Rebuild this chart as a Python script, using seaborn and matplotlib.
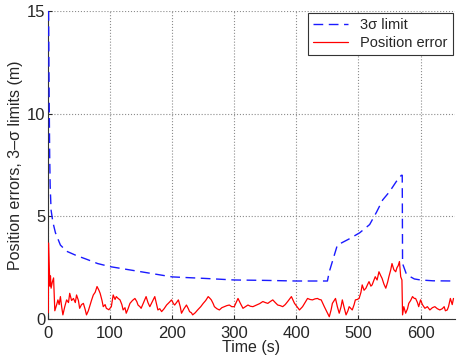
import pandas as pd
import matplotlib.pyplot as plt
import seaborn as sns

# 3-sigma limit (m) vs time (s)
sigma_points = [
    (1, 15), (1.5, 12.5), (2, 10.5), (2.7, 8), (3.5, 6.5), (5, 5.3), (8, 4.7), (12, 4.2),
    (20, 3.6), (30, 3.3), (45, 3.1), (63, 2.9), (80, 2.7), (100, 2.55), (150, 2.3),
    (200, 2.05), (250, 1.98), (300, 1.9), (350, 1.88), (400, 1.85), (450, 1.85),
    (453, 2.3), (459, 2.9), (466, 3.6), (485, 3.9), (502, 4.2), (518, 4.6), (529, 5.2),
    (539, 5.8), (550, 6.2), (561, 6.7), (569, 7.0), (570.5, 7.0), (571, 2.7), (577, 2.2),
    (584, 2.05), (590, 1.95), (600, 1.9), (620, 1.86), (655, 1.85),
]

# position error (m) vs time (s)
err_points = [
    (0.5, 0.3), (1, 3.7), (2, 2.6), (3, 1.6), (4, 2.1), (5, 1.5), (7, 1.8), (9, 2.0),
    (10, 1.2), (11, 0.4), (14, 0.7), (16, 0.93), (18, 0.7), (20, 1.09), (22, 0.6),
    (24, 0.2), (27, 0.6), (30, 0.93), (33, 0.8), (35, 1.25), (38, 0.9), (41, 1.0),
    (44, 0.8), (46, 1.17), (49, 0.9), (51, 0.52), (54, 0.7), (57, 0.76), (60, 0.45),
    (62, 0.2), (65, 0.4), (67, 0.6), (70, 0.9), (73, 1.17), (76, 1.3), (79, 1.58),
    (82, 1.4), (84, 1.25), (87, 0.9), (89, 0.6), (92, 0.7), (94, 0.52), (98, 0.45),
    (102, 0.6), (105, 1.17), (108, 0.95), (110, 1.09), (113, 1.0), (116, 0.93),
    (119, 0.7), (121, 0.44), (124, 0.55), (126, 0.28), (129, 0.5), (132, 0.76),
    (136, 0.9), (140, 1.0), (143, 0.85), (145, 0.68), (148, 0.6), (150, 0.52),
    (154, 0.8), (158, 1.09), (161, 0.8), (164, 0.6), (168, 0.85), (172, 1.09),
    (175, 0.7), (177, 0.44), (180, 0.5), (183, 0.36), (187, 0.5), (191, 0.68),
    (195, 0.8), (199, 0.93), (202, 0.75), (204, 0.68), (207, 0.8), (210, 0.93),
    (213, 0.6), (215, 0.28), (219, 0.5), (223, 0.68), (226, 0.5), (228, 0.36),
    (231, 0.3), (233, 0.2), (237, 0.3), (241, 0.44), (246, 0.6), (250, 0.76),
    (254, 0.9), (258, 1.09), (261, 1.0), (263, 0.93), (266, 0.75), (268, 0.6),
    (272, 0.5), (276, 0.44), (280, 0.55), (284, 0.6), (288, 0.65), (292, 0.68),
    (296, 0.6), (300, 0.6), (303, 0.8), (306, 1.0), (310, 0.75), (314, 0.52),
    (318, 0.6), (322, 0.68), (326, 0.62), (330, 0.6), (336, 0.68), (341, 0.75),
    (346, 0.85), (350, 0.8), (354, 0.76), (358, 0.85), (362, 0.93), (366, 0.8),
    (370, 0.68), (374, 0.65), (378, 0.6), (382, 0.7), (386, 0.85), (392, 1.09),
    (397, 0.76), (401, 0.6), (405, 0.44), (410, 0.6), (414, 0.8), (418, 1.0),
    (422, 0.95), (426, 0.93), (430, 0.98), (434, 1.0), (437, 0.95), (440, 0.93),
    (445, 0.6), (449, 0.35), (453, 0.11), (456, 0.45), (458, 0.76), (461, 0.9),
    (463, 1.0), (466, 0.6), (469, 0.28), (472, 0.6), (474, 0.93), (477, 0.55),
    (480, 0.2), (483, 0.4), (485, 0.6), (488, 0.5), (490, 0.44), (493, 0.7),
    (495, 0.93), (498, 0.95), (501, 1.0), (504, 1.3), (506, 1.66), (509, 1.4),
    (512, 1.5), (515, 1.7), (517, 1.82), (520, 1.6), (522, 1.66), (525, 1.9),
    (527, 2.06), (530, 1.9), (533, 2.3), (536, 2.1), (538, 1.98), (541, 1.7),
    (544, 1.5), (547, 1.8), (549, 2.06), (552, 2.4), (554, 2.7), (557, 2.4),
    (560, 2.3), (562, 2.5), (564, 2.6), (566, 2.8), (568, 2.06), (570, 1.9),
    (571, 0.2), (573, 0.6), (576, 0.28), (579, 0.5), (581, 0.76), (584, 0.9),
    (587, 1.09), (590, 1.0), (592, 1.0), (595, 0.8), (597, 0.6), (600, 0.93),
    (603, 0.7), (607, 0.52), (611, 0.6), (615, 0.44), (619, 0.55), (623, 0.6),
    (627, 0.5), (631, 0.44), (635, 0.5), (638, 0.6), (640, 0.4), (643, 0.44),
    (645, 0.6), (648, 1.0), (651, 0.7), (653, 1.0),
]

sigma_df = pd.DataFrame(sigma_points, columns=['t', 'v'])
err_df = pd.DataFrame(err_points, columns=['t', 'v'])

sns.set_style('ticks')
plt.rcParams['font.family'] = ['Liberation Sans', 'DejaVu Sans']

fig = plt.figure(figsize=(4.57, 3.58), dpi=100)
ax = fig.add_axes([0.105, 0.109, 0.89, 0.86])

sns.lineplot(data=sigma_df, x='t', y='v', ax=ax, color='#1a1aff', lw=1.0,
             linestyle=(0, (7, 4)), label='3σ limit', zorder=3)
sns.lineplot(data=err_df, x='t', y='v', ax=ax, color='#ff0000', lw=0.9,
             label='Position error', zorder=3)

ax.set_xlim(0, 655)
ax.set_ylim(0, 15)
ax.set_xticks([0, 100, 200, 300, 400, 500, 600])
ax.set_yticks([0, 5, 10, 15])
ax.grid(True, linestyle=':', color='#8c8c8c', lw=0.8)
ax.tick_params(direction='in', labelsize=12, length=3)
ax.tick_params(axis='x', pad=5)
ax.tick_params(axis='y', pad=2)
ax.set_xlabel('Time (s)', fontsize=11.5, labelpad=-1)
ax.set_ylabel('Position errors, 3\u2013σ limits (m)', fontsize=11.5, labelpad=3)
for s in ['top', 'right']:
    ax.spines[s].set_visible(False)
for s in ['left', 'bottom']:
    ax.spines[s].set_color('#333333')

leg = ax.legend(loc='upper right', fontsize=10.5, fancybox=False, framealpha=1,
                edgecolor='#333333', handlelength=2.4, borderaxespad=0.15,
                borderpad=0.35, labelspacing=0.25)
leg.get_frame().set_linewidth(0.8)

plt.savefig('out.png', dpi=100)
